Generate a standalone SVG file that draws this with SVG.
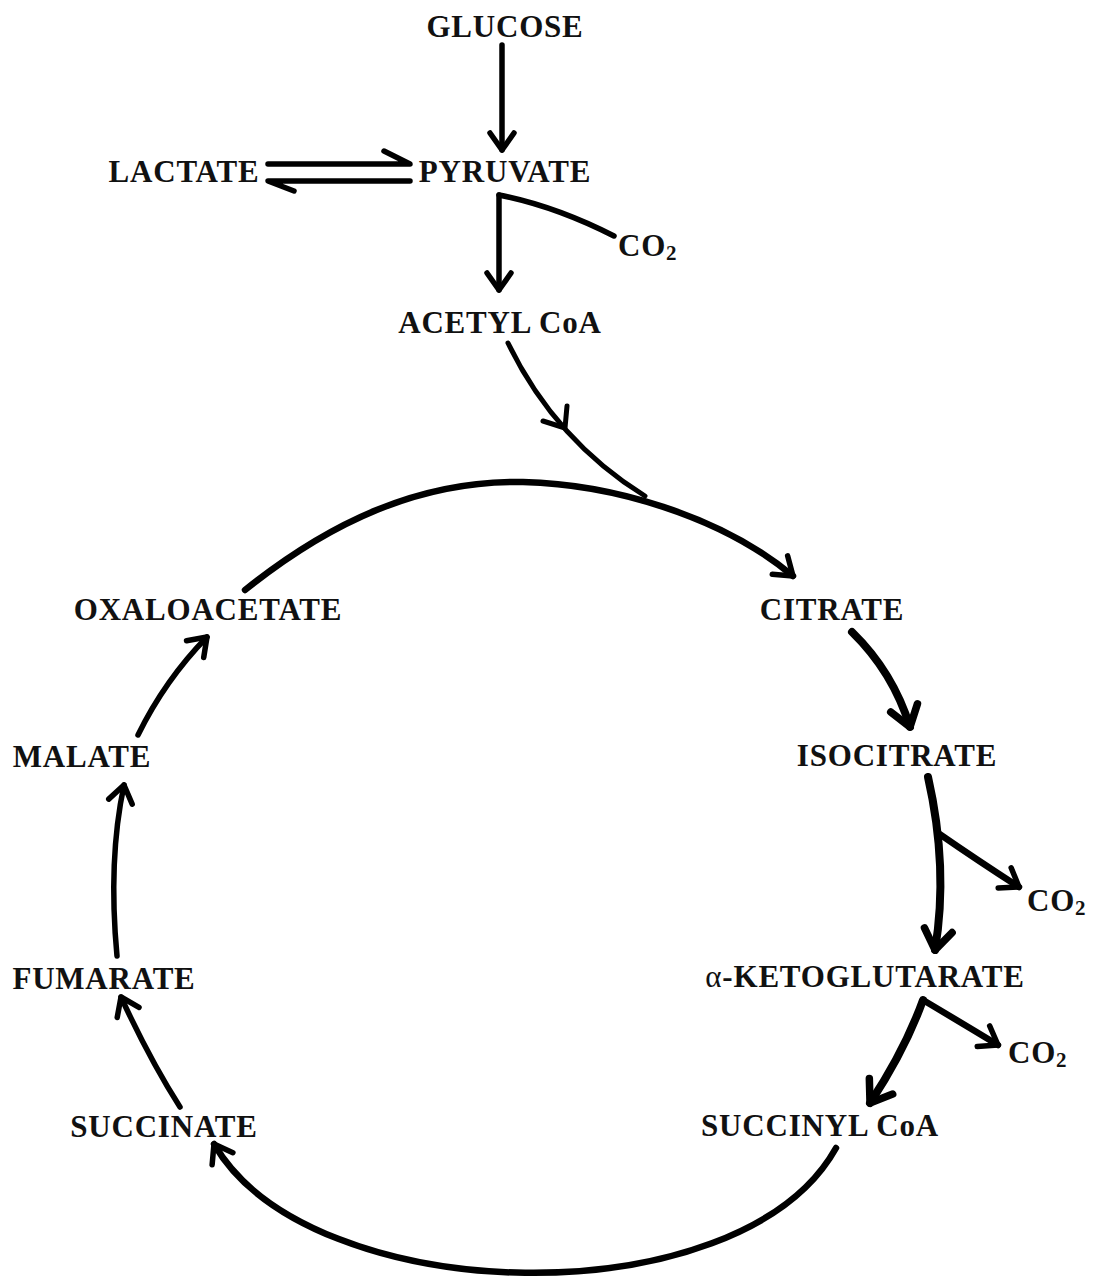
<svg xmlns="http://www.w3.org/2000/svg" width="1095" height="1281" viewBox="0 0 1095 1281">
  <style>
    .lbl { font-family: "Liberation Serif", "Times New Roman", serif; font-weight: bold; font-size: 31px; letter-spacing: 0.8px; fill: #111; }
    .sub { font-size: 21px; letter-spacing: 0; }
    .ln { fill: none; stroke: #000; stroke-linecap: round; stroke-linejoin: round; }
    .w4 { stroke-width: 5; }
    .w5 { stroke-width: 5.5; }
    .w6 { stroke-width: 6.5; }
    .w8 { stroke-width: 8; }
  </style>
  <defs>
    <marker id="head" markerUnits="userSpaceOnUse" orient="auto" overflow="visible" markerWidth="1" markerHeight="1">
      <path d="M-17,-12 L0,0 L-17,12" fill="none" stroke="#000" stroke-width="5.5" stroke-linecap="round" stroke-linejoin="round"/>
    </marker>
    <marker id="headBold" markerUnits="userSpaceOnUse" orient="auto" overflow="visible" markerWidth="1" markerHeight="1">
      <path d="M-20,-14 L0,0 L-20,14" fill="none" stroke="#000" stroke-width="7.5" stroke-linecap="round" stroke-linejoin="round"/>
    </marker>
  </defs>

  <rect width="1095" height="1281" fill="#fff"/>

  <g id="connectors">
    <!-- glucose to pyruvate -->
    <path class="ln w5" d="M502,45 L502,150" marker-end="url(#head)"/>
    <!-- lactate / pyruvate equilibrium harpoons -->
    <path class="ln w5" d="M268,164 L410,164 L384,151"/>
    <path class="ln w5" d="M410,181 L268,181 L294,191"/>
    <!-- pyruvate to acetyl CoA with CO2 release -->
    <path class="ln w5" d="M499,195 L499,290" marker-end="url(#head)"/>
    <path class="ln w5" d="M499,195 Q555,206 614,236"/>
    <!-- acetyl CoA joining the cycle -->
    <path class="ln w4" d="M508,343 Q555,440 645,496"/>
    <path class="ln w4" d="M543,421 L565,428 L567,406"/>
    <!-- oxaloacetate to citrate -->
    <path class="ln w6" d="M245,590 C330,522 420,480 523,482 C610,484 720,515 793,576" marker-end="url(#head)"/>
    <!-- citrate to isocitrate -->
    <path class="ln w8" d="M852,632 Q893,672 910,727" marker-end="url(#headBold)"/>
    <!-- isocitrate to alpha-ketoglutarate, CO2 branch -->
    <path class="ln w8" d="M928,777 C940,830 945,890 935,950" marker-end="url(#headBold)"/>
    <path class="ln w6" d="M938,833 Q980,862 1019,887" marker-end="url(#head)"/>
    <!-- alpha-ketoglutarate to succinyl CoA, CO2 branch -->
    <path class="ln w8" d="M923,1000 Q905,1050 870,1103" marker-end="url(#headBold)"/>
    <path class="ln w6" d="M923,1000 Q960,1022 998,1045" marker-end="url(#head)"/>
    <!-- succinyl CoA to succinate -->
    <path class="ln w6" d="M836,1148 C740,1320 310,1310 214,1144" marker-end="url(#head)"/>
    <!-- succinate to fumarate -->
    <path class="ln w5" d="M180,1107 Q150,1060 121,997" marker-end="url(#head)"/>
    <!-- fumarate to malate -->
    <path class="ln w5" d="M117,956 Q108,860 124,785" marker-end="url(#head)"/>
    <!-- malate to oxaloacetate -->
    <path class="ln w5" d="M138,735 Q165,680 207,637" marker-end="url(#head)"/>
  </g>

  <g id="glucose"><text class="lbl" x="505" y="37" text-anchor="middle">GLUCOSE</text></g>
  <g id="lactate"><text class="lbl" x="184" y="182" text-anchor="middle">LACTATE</text></g>
  <g id="pyruvate"><text class="lbl" x="505" y="182" text-anchor="middle">PYRUVATE</text></g>
  <g id="co2-pdh"><text class="lbl" x="618" y="256" letter-spacing="0">CO<tspan class="sub" dy="4">2</tspan></text></g>
  <g id="acetyl-coa"><text class="lbl" x="500" y="333" text-anchor="middle">ACETYL CoA</text></g>
  <g id="oxaloacetate"><text class="lbl" x="208" y="620" text-anchor="middle">OXALOACETATE</text></g>
  <g id="citrate"><text class="lbl" x="832" y="620" text-anchor="middle">CITRATE</text></g>
  <g id="malate"><text class="lbl" x="82" y="767" text-anchor="middle">MALATE</text></g>
  <g id="isocitrate"><text class="lbl" x="897" y="766" text-anchor="middle">ISOCITRATE</text></g>
  <g id="co2-idh"><text class="lbl" x="1027" y="911" letter-spacing="0">CO<tspan class="sub" dy="4">2</tspan></text></g>
  <g id="fumarate"><text class="lbl" x="104" y="989" text-anchor="middle">FUMARATE</text></g>
  <g id="alpha-ketoglutarate"><text class="lbl" x="865" y="987" text-anchor="middle"><tspan font-weight="normal">α</tspan>-KETOGLUTARATE</text></g>
  <g id="co2-kgdh"><text class="lbl" x="1008" y="1063" letter-spacing="0">CO<tspan class="sub" dy="4">2</tspan></text></g>
  <g id="succinate"><text class="lbl" x="164" y="1137" text-anchor="middle">SUCCINATE</text></g>
  <g id="succinyl-coa"><text class="lbl" x="820" y="1136" text-anchor="middle">SUCCINYL CoA</text></g>
</svg>
